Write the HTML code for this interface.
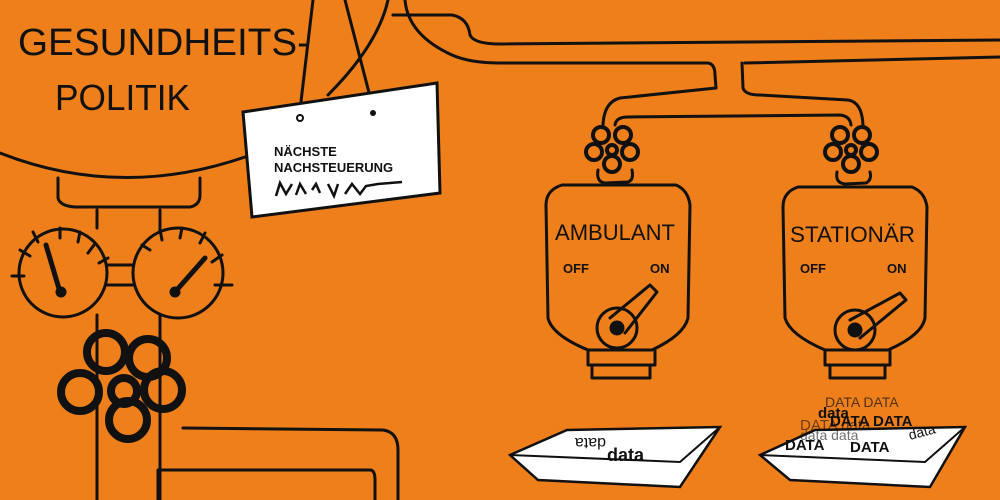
<!DOCTYPE html>
<html><head><meta charset="utf-8"><style>
html,body{margin:0;padding:0;background:#ee7f1b;}
svg{display:block}
.h{font-family:"Liberation Sans",sans-serif;}
</style></head><body>
<svg width="1000" height="500" viewBox="0 0 1000 500" xmlns="http://www.w3.org/2000/svg">
<rect width="1000" height="500" fill="#ee7f1b"/>
<g fill="none" stroke="#111" stroke-width="3" stroke-linecap="round" stroke-linejoin="round">
<!-- tank -->
<path d="M0,153 Q120,200 245,157"/>
<path d="M328,95 Q378,45 388,0"/>
<path d="M58,178 L58,198 Q60,206 75,207 L190,207 Q200,205 200,195 L200,178"/>
<!-- vertical pipes -->
<path d="M97,210 V228 M160,210 V232"/>
<path d="M97,315 V500 M160,315 V500"/>
<!-- gauges -->
<circle cx="63" cy="273" r="44"/>
<circle cx="178" cy="273" r="45"/>
<path d="M107,265 H133 M107,285 H133"/>
<path d="M12,276 H24 M20,250 L30,256 M33,232 L38,242 M60,228 V238 M80,232 L78,242 M94,245 L88,253 M99,263 L108,258"/>
<path d="M142,245 L150,250 M160,230 L162,240 M182,228 L180,238 M205,233 L200,243 M222,255 L212,262 M232,285 L215,285"/>
<path d="M46,245 L60,292" stroke-width="5"/>
<path d="M205,258 L175,292" stroke-width="5"/>
<circle cx="61" cy="292" r="4" fill="#111"/>
<circle cx="175" cy="292" r="4" fill="#111"/>
<!-- big valve -->
<g stroke-width="8">
<circle cx="106" cy="352" r="19"/><circle cx="148" cy="358" r="19"/>
<circle cx="80" cy="392" r="19"/><circle cx="163" cy="390" r="19"/>
<circle cx="128" cy="420" r="19"/><circle cx="124" cy="391" r="13"/>
</g>
<!-- bottom pipe -->
<path d="M183,428 L383,430 Q398,432 398,450 V500"/>
<path d="M158,500 V470 H370 Q375,470 375,480 V500"/>
<!-- top pipe -->
<path d="M393,15 L452,15 Q468,18 470,35 Q474,44 500,44 L1000,40"/>
<path d="M405,0 Q408,35 452,55 Q470,63 500,63 L708,63 Q715,64 715,75 L716,88 L620,98 Q604,102 603,125"/>
<path d="M745,63 L1000,57"/>
<path d="M742,63 L743,88 Q745,95 760,95 L848,100 Q862,102 863,125"/>
<path d="M615,125 Q616,117 628,117 L840,115 Q850,116 851,125"/>
<!-- small valves -->
<g stroke-width="4">
<circle cx="601" cy="135" r="8"/><circle cx="623" cy="135" r="8"/><circle cx="594" cy="152" r="8"/><circle cx="630" cy="152" r="8"/><circle cx="612" cy="164" r="8"/><circle cx="612" cy="150" r="5"/>
<circle cx="840" cy="135" r="8"/><circle cx="862" cy="135" r="8"/><circle cx="833" cy="152" r="8"/><circle cx="869" cy="152" r="8"/><circle cx="851" cy="164" r="8"/><circle cx="851" cy="150" r="5"/>
</g>
<!-- bottles -->
<g id="b1">
<path d="M598,170 Q596,182 605,183 L628,182 Q634,180 632,170"/>
<path d="M562,185 Q546,190 546,205 L548,318 Q552,335 588,350 L652,350 Q684,335 688,318 L690,205 Q688,190 676,185 Z"/>
<path d="M588,350 V365 L655,365 V350 M592,365 V378 L650,378 V365"/>
</g>
<path d="M837,172 Q835,183 845,184 L866,183 Q872,180 870,172"/>
<path d="M798,187 Q783,192 783,207 L785,318 Q790,335 825,350 L888,350 Q922,335 925,318 L927,207 Q925,192 912,187 Z"/>
<path d="M825,350 V365 L890,365 V350 M830,365 V378 L885,378 V365"/>
<!-- toggles -->
<circle cx="617" cy="328" r="20"/>
<path d="M610,318 L650,285 L657,292 L625,333" stroke-width="3"/>
<circle cx="617" cy="328" r="6" fill="#111"/>
<circle cx="855" cy="330" r="20"/>
<path d="M850,320 L900,293 L906,300 L860,338"/>
<circle cx="855" cy="330" r="6" fill="#111"/>
<!-- sign strings -->
<path d="M313,0 L300,110 M345,0 L373,108"/>
</g>
<!-- sign -->
<path d="M243,112 L437,83 L440,193 L252,217 Z" fill="#fff" stroke="#111" stroke-width="3"/>
<circle cx="300" cy="118" r="3" fill="none" stroke="#111" stroke-width="2"/>
<circle cx="373" cy="113" r="3" fill="#111"/>
<text x="274" y="156" class="h" font-size="13" font-weight="bold" fill="#111">NÄCHSTE</text>
<text x="274" y="172" class="h" font-size="13" font-weight="bold" fill="#111">NACHSTEUERUNG</text>
<path d="M276,196 L280,183 L286,194 L292,184 M296,195 L300,184 L306,194 M312,190 L316,184 L320,193 M328,184 L334,196 L338,184 M345,194 L352,184 L360,194 L366,186 L378,184 L402,182" fill="none" stroke="#111" stroke-width="2.5"/>
<!-- titles -->
<text x="18" y="55" class="h" font-size="38" fill="#111" textLength="292" lengthAdjust="spacingAndGlyphs">GESUNDHEITS-</text>
<text x="55" y="110" class="h" font-size="36" fill="#111" textLength="135" lengthAdjust="spacingAndGlyphs">POLITIK</text>
<text x="555" y="240" class="h" font-size="22" fill="#111" textLength="120" lengthAdjust="spacingAndGlyphs">AMBULANT</text>
<text x="790" y="242" class="h" font-size="22" fill="#111" textLength="125" lengthAdjust="spacingAndGlyphs">STATIONÄR</text>
<g class="h" font-size="13" font-weight="bold" fill="#111">
<text x="563" y="273">OFF</text><text x="650" y="273">ON</text>
<text x="800" y="273">OFF</text><text x="887" y="273">ON</text>
</g>
<!-- trays -->
<path d="M510,455 L567,430 L720,427 L680,487 L538,480 Z" fill="#fff" stroke="#111" stroke-width="2.5"/>
<path d="M510,455 L680,462 L720,427" fill="none" stroke="#111" stroke-width="2"/>
<text x="607" y="461" class="h" font-size="18" font-weight="bold" fill="#111">data</text>
<text x="650" y="426" class="h" font-size="16" fill="#111" transform="rotate(180 628 432)">data</text>
<path d="M760,455 L815,430 L965,427 L930,487 L790,480 Z" fill="#fff" stroke="#111" stroke-width="2.5"/>
<path d="M760,455 L925,462 L965,427" fill="none" stroke="#111" stroke-width="2"/>
<g class="h" fill="#111">
<text x="825" y="407" font-size="14" opacity="0.7">DATA DATA</text>
<text x="818" y="418" font-size="15" font-weight="bold">data</text>
<text x="800" y="430" font-size="15" opacity="0.6">DATA data</text>
<text x="830" y="426" font-size="15" font-weight="bold">DATA DATA</text>
<text x="785" y="450" font-size="15" font-weight="bold">DATA</text>
<text x="850" y="452" font-size="15" font-weight="bold">DATA</text>
<text x="910" y="440" font-size="14" transform="rotate(-15 910 440)">data</text>
<text x="800" y="440" font-size="14" opacity="0.6">data data</text>
</g>
</svg>
</body></html>
